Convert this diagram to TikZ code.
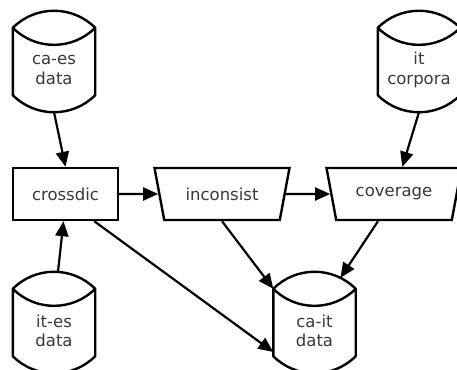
\documentclass[tikz,border=0pt]{standalone}
\usepackage{fontspec}
\setmainfont{DejaVu Sans}
\usetikzlibrary{shapes.geometric,arrows.meta}
\tikzset{
  store/.style={minimum width=82pt, minimum height=84pt, inner sep=0pt, align=center},
  proc/.style={draw, line width=2.4pt, minimum width=105pt, minimum height=52pt},
  filt/.style={draw, line width=2.4pt, trapezium, shape border rotate=180,
    trapezium angle=63.4, trapezium stretches body, minimum width=135pt, minimum height=52pt},
  flow/.style={line width=2.2pt, -{Triangle[length=15pt,width=13pt]}}
}
\begin{document}
\begin{tikzpicture}[x=1pt,y=1pt,font=\fontsize{16.5}{19.5}\selectfont,text=black!78]
\path[use as bounding box, clip] (0,0) rectangle (457,369);

\node[store] (caes) at (54,299) {ca-es\\data};
\node[store] (corp) at (419,299) {it\\corpora};
\node[store] (ites) at (54,38) {it-es\\data};
\node[store] (cait) at (314.5,38) {ca-it\\data};

\node[proc] (cross) at (65.5,175) {crossdic};
\node[filt] (inc) at (222,175) {inconsist};
\node[filt] (cov) at (394,175) {coverage};

\foreach \n in {caes,corp,ites,cait}
  \draw[line width=2.4pt, line join=round] (\n.north west) -- ([yshift=17pt]\n.south west)
    to[bend right=45] ([yshift=17pt]\n.south east) -- (\n.north east)
    to[bend right=45] (\n.north west) to[bend right=45] (\n.north east);

\draw[flow] (caes.south) -- (cross.north);
\draw[flow] ([xshift=4pt,yshift=17pt]ites.north) -- ([xshift=-2pt]cross.south);
\draw[flow] (cross) -- (inc);
\draw[flow] (inc) -- (cov);
\draw[flow] (corp.south) -- (cov);
\draw[flow] (inc.south) -- (cait.north west);
\draw[flow] ([xshift=-16pt]cov.south) -- ([xshift=26pt,yshift=11pt]cait.north);
\draw[flow] ([xshift=-25pt]cross.south east) -- ([yshift=-21pt]cait.west);
\end{tikzpicture}
\end{document}
